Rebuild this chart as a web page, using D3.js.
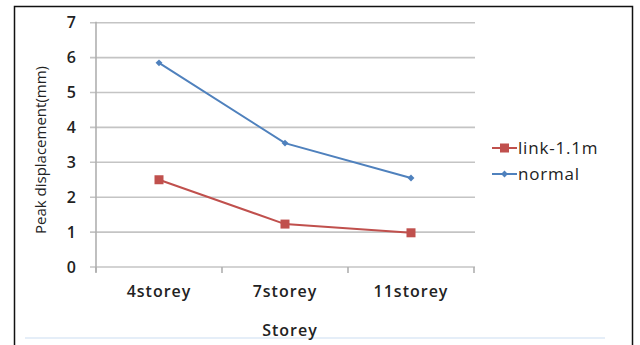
<!DOCTYPE html>
<html>
<head>
<meta charset="utf-8">
<script src="https://cdn.jsdelivr.net/npm/d3@7"></script>
<style>
  html, body { margin: 0; padding: 0; background: #fff; }
  svg { display: block; font-family: "Open Sans", sans-serif; }
</style>
</head>
<body>
<svg id="chart" width="640" height="345"></svg>
<script>
// Peak displacement per building height
const categories = ["4storey", "7storey", "11storey"];
const linkValues = [2.5, 1.23, 0.98];
const normalValues = [5.85, 3.55, 2.55];
const yTicks = [0, 1, 2, 3, 4, 5, 6, 7];
const seriesNames = ["link-1.1m", "normal"];

const series = [
  { name: seriesNames[0], values: linkValues, color: "#c0504d", marker: "square" },
  { name: seriesNames[1], values: normalValues, color: "#4f81bd", marker: "diamond" }
];

const FONT = "'Open Sans', sans-serif";
const TEXT_COLOR = "#222";
const svg = d3.select("#chart");
const plot = { left: 96, right: 474, top: 22.7, bottom: 267 };

// Outer frame
svg.append("rect")
  .attr("x", 14.5).attr("y", 6.5).attr("width", 618).attr("height", 345)
  .attr("fill", "none").attr("stroke", "#111").attr("stroke-width", 1.5);
svg.append("line")
  .attr("x1", 25).attr("x2", 605).attr("y1", 338).attr("y2", 338)
  .attr("stroke", "#dce8f6").attr("stroke-width", 1.5);

const x = d3.scaleBand().domain(categories).range([plot.left, plot.right]);
const y = d3.scaleLinear().domain([0, 7]).range([plot.bottom, plot.top]);

// Horizontal gridlines
svg.append("g")
  .selectAll("line")
  .data(yTicks)
  .join("line")
  .attr("x1", plot.left - 6).attr("x2", plot.right + 1)
  .attr("y1", d => y(d)).attr("y2", d => y(d))
  .attr("stroke", "#c4c4c4").attr("stroke-width", 1.6);

// Y axis
const yAxis = svg.append("g")
  .attr("transform", `translate(${plot.left},0)`)
  .call(d3.axisLeft(y).tickValues(yTicks).tickFormat(d3.format("d")).tickSize(0).tickPadding(20));
yAxis.select(".domain").attr("stroke", "#b0b0b0").attr("stroke-width", 1.6)
  .attr("d", `M0,${plot.top - 1}V${plot.bottom + 5}`);
yAxis.selectAll("text").attr("font-size", 16).attr("fill", TEXT_COLOR)
  .attr("font-family", FONT).attr("font-weight", 600);

// X axis with category boundary ticks
const xAxis = svg.append("g")
  .attr("transform", `translate(0,${plot.bottom})`)
  .call(d3.axisBottom(x).tickSize(0).tickPadding(19));
xAxis.select(".domain").remove();
xAxis.selectAll("text").attr("font-size", 16).attr("fill", TEXT_COLOR)
  .attr("font-family", FONT).attr("font-weight", 600)
  .attr("letter-spacing", 1);

const boundaries = categories.map(c => x(c)).concat([x(categories[categories.length - 1]) + x.bandwidth()]);
svg.append("g")
  .selectAll("line")
  .data(boundaries)
  .join("line")
  .attr("x1", d => d).attr("x2", d => d)
  .attr("y1", plot.bottom).attr("y2", plot.bottom + 6)
  .attr("stroke", "#b0b0b0").attr("stroke-width", 1.6);

// Axis titles
svg.append("text")
  .attr("transform", `translate(46,150) rotate(-90)`)
  .attr("text-anchor", "middle")
  .attr("font-size", 15).attr("fill", TEXT_COLOR).attr("font-weight", 500)
  .text("Peak displacement(mm)");

svg.append("text")
  .attr("x", 290).attr("y", 336)
  .attr("text-anchor", "middle")
  .attr("font-size", 16).attr("fill", TEXT_COLOR).attr("font-weight", 600)
  .attr("letter-spacing", 1)
  .text("Storey");

// Lines and markers
const line = d3.line()
  .x((d, i) => x(categories[i]) + x.bandwidth() / 2)
  .y(d => y(d));

function drawMarker(g, type, color, cx, cy) {
  if (type === "square") {
    g.append("rect").attr("x", cx - 4.5).attr("y", cy - 4.5)
      .attr("width", 9).attr("height", 9).attr("fill", color);
  } else {
    g.append("path").attr("d", d3.symbol(d3.symbolDiamond2, 30)())
      .attr("transform", `translate(${cx},${cy})`).attr("fill", color);
  }
}

series.forEach(s => {
  const g = svg.append("g");
  g.append("path").datum(s.values)
    .attr("d", line).attr("fill", "none")
    .attr("stroke", s.color).attr("stroke-width", 2);
  s.values.forEach((v, i) => {
    drawMarker(g, s.marker, s.color, x(categories[i]) + x.bandwidth() / 2, y(v));
  });
});

// Legend
const legend = svg.append("g");
series.forEach((s, i) => {
  const ly = 148 + i * 26;
  const g = legend.append("g");
  g.append("line").attr("x1", 492).attr("x2", 517).attr("y1", ly).attr("y2", ly)
    .attr("stroke", s.color).attr("stroke-width", 2);
  drawMarker(g, s.marker, s.color, 504.5, ly);
  g.append("text").attr("x", 518).attr("y", ly).attr("dy", "0.35em")
    .attr("font-size", 17).attr("fill", TEXT_COLOR).attr("font-weight", 500)
    .attr("letter-spacing", 0.8)
    .text(s.name);
});
</script>
</body>
</html>
